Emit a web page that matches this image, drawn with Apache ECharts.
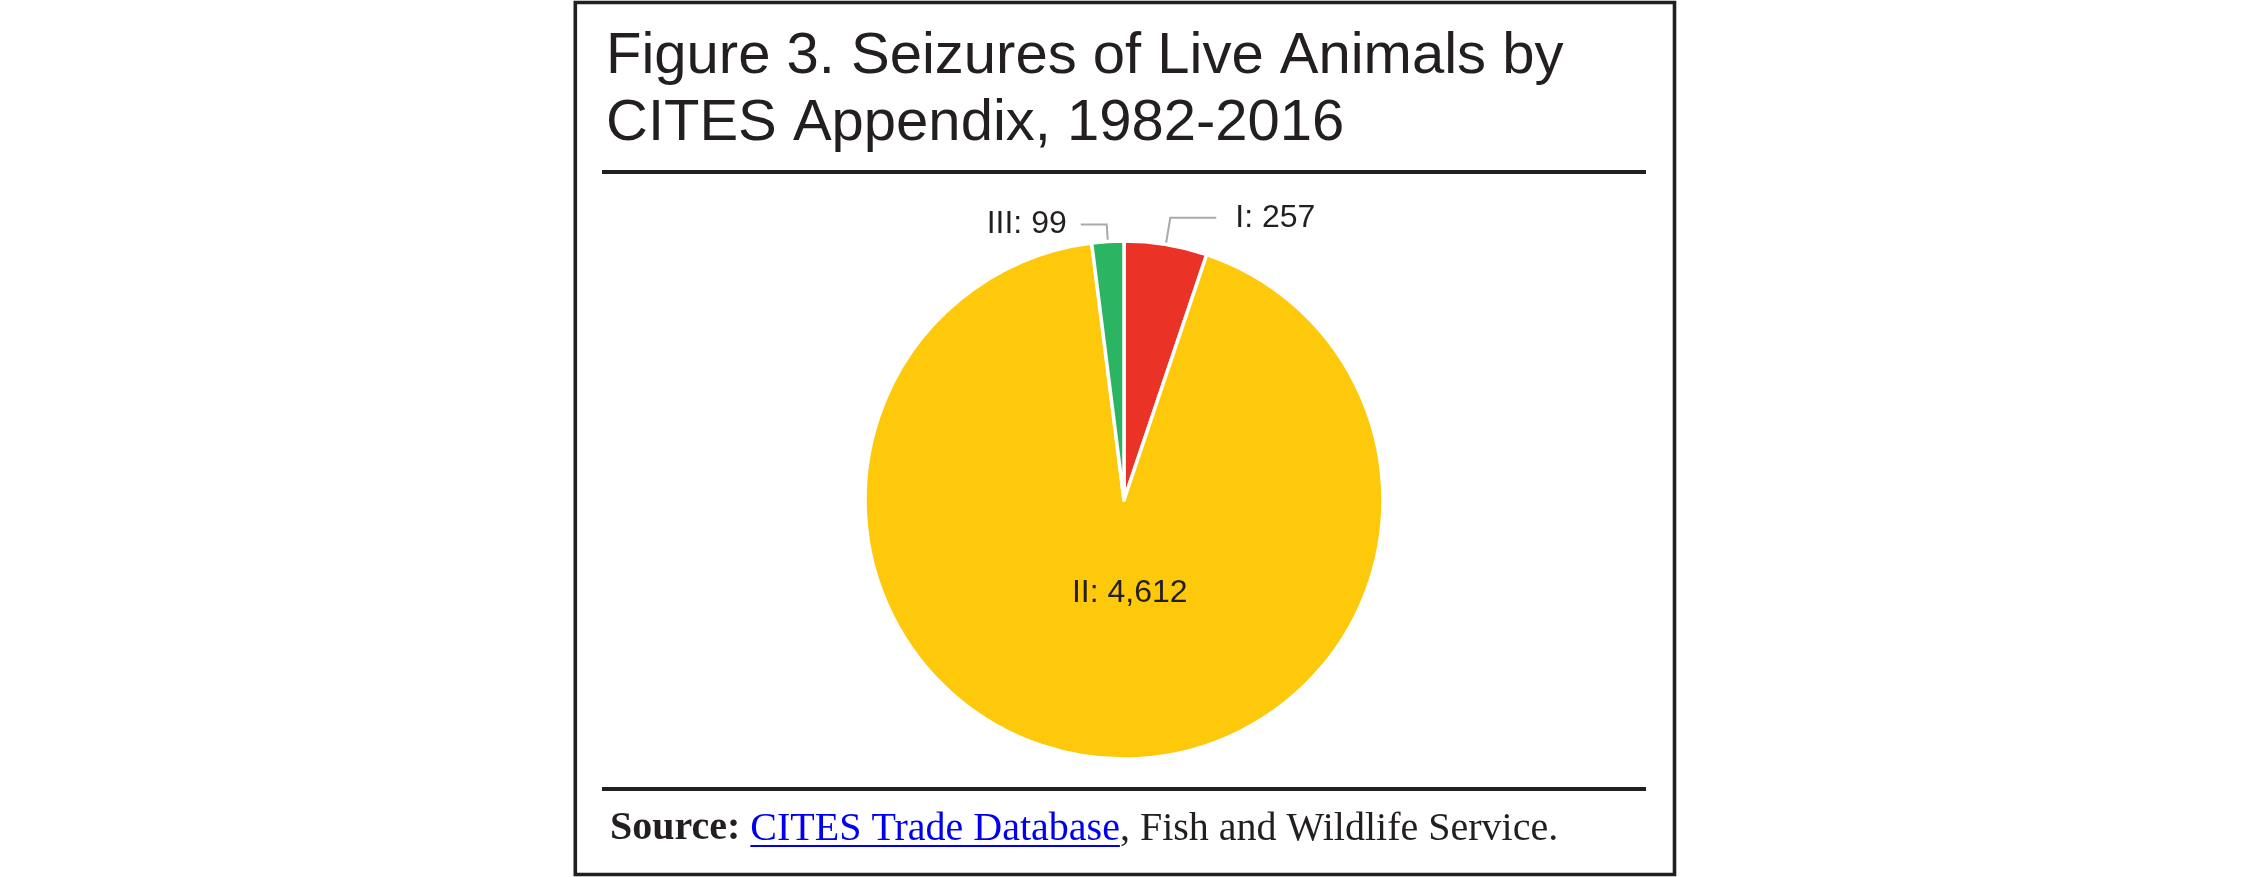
<!DOCTYPE html>
<html>
<head>
<meta charset="utf-8">
<script src="https://cdn.jsdelivr.net/npm/echarts@6/dist/echarts.min.js"></script>
<style>
  html, body { margin: 0; padding: 0; background: #ffffff; }
  #chart { width: 2250px; height: 877px; }
</style>
</head>
<body>
<div id="chart"></div>
<script>
// ---- data ----
const categories = ['I', 'II', 'III'];
const values = [257, 4612, 99];
const sliceColors = ['#EA3326', '#FEC80B', '#2BB462'];
const titleLines = ['Figure 3. Seizures of Live Animals by', 'CITES Appendix, 1982-2016'];
const sourceLabel = 'Source:';
const sourceLink = 'CITES Trade Database';
const sourceRest = ', Fish and Wildlife Service.';

// ---- helpers ----
const ink = '#231f20';
function measure(text, font) {
  const c = document.createElement('canvas').getContext('2d');
  c.font = font;
  return c.measureText(text).width;
}
const srcLeft = 610;
const srcFont = 40;
const wBold = measure(sourceLabel, 'bold ' + srcFont + 'px "Liberation Serif"');
const wSpace = measure(' ', srcFont + 'px "Liberation Serif"');
const wLink = measure(sourceLink, srcFont + 'px "Liberation Serif"');
const ulX1 = srcLeft + wBold + wSpace;
const ulX2 = ulX1 + wLink;

const pieData = categories.map((name, i) => {
  const item = { name: name, value: values[i], itemStyle: { color: sliceColors[i] } };
  if (name === 'II') {
    item.label = { position: 'inside' };
    item.labelLine = { show: false };
  } else if (name === 'I') {
    item.labelLine = { length: 27, length2: 46 };
    item.label = { distanceToLabelLine: 19 };
  } else {
    item.labelLine = { length: 17, length2: 26 };
    item.label = { distanceToLabelLine: 14 };
  }
  return item;
});

const chart = echarts.init(document.getElementById('chart'), null, { renderer: 'canvas' });
chart.setOption({
  animation: false,
  backgroundColor: '#ffffff',
  title: [
    {
      text: titleLines.join('\n'),
      left: 606,
      top: 23,
      padding: 0,
      textStyle: {
        fontFamily: '"Liberation Sans", Arial, sans-serif',
        fontWeight: 'normal',
        fontSize: 58,
        lineHeight: 67,
        color: ink
      }
    },
    {
      text: '{b|' + sourceLabel + '}{r| }{a|' + sourceLink + '}{r|' + sourceRest + '}',
      left: srcLeft,
      top: 809,
      padding: 0,
      textStyle: {
        rich: {
          b: { fontFamily: '"Liberation Serif", serif', fontWeight: 'bold', fontSize: srcFont, lineHeight: 40, color: ink },
          a: { fontFamily: '"Liberation Serif", serif', fontWeight: 'normal', fontSize: srcFont, lineHeight: 40, color: '#0000EE' },
          r: { fontFamily: '"Liberation Serif", serif', fontWeight: 'normal', fontSize: srcFont, lineHeight: 40, color: ink }
        }
      }
    }
  ],
  graphic: [
    { type: 'rect', shape: { x: 575.3, y: 2.5, width: 1099.2, height: 872 }, style: { fill: 'none', stroke: ink, lineWidth: 3.6 }, silent: true },
    { type: 'line', shape: { x1: 602, y1: 172, x2: 1646, y2: 172 }, style: { stroke: ink, lineWidth: 4 }, silent: true },
    { type: 'line', shape: { x1: 602, y1: 789, x2: 1646, y2: 789 }, style: { stroke: ink, lineWidth: 4 }, silent: true },
    { type: 'line', shape: { x1: ulX1, y1: 846, x2: ulX2, y2: 846 }, style: { stroke: '#0000EE', lineWidth: 2 }, silent: true }
  ],
  series: [
    {
      type: 'pie',
      center: [1124, 500],
      radius: [0, 259],
      startAngle: 90,
      clockwise: true,
      avoidLabelOverlap: false,
      data: pieData,
      itemStyle: { borderColor: '#ffffff', borderWidth: 3.5 },
      label: {
        show: true,
        position: 'outside',
        fontFamily: '"Liberation Sans", Arial, sans-serif',
        fontSize: 32,
        color: ink,
        formatter: p => p.name + ': ' + p.value.toLocaleString('en-US')
      },
      labelLine: {
        show: true,
        lineStyle: { color: '#a7a9ac', width: 2 }
      },
      labelLayout: function (params) {
        if (params.dataIndex === 1) {
          return { dx: 19, dy: -39 };
        }
        return {};
      },
      emphasis: { disabled: true }
    }
  ]
});
</script>
</body>
</html>
